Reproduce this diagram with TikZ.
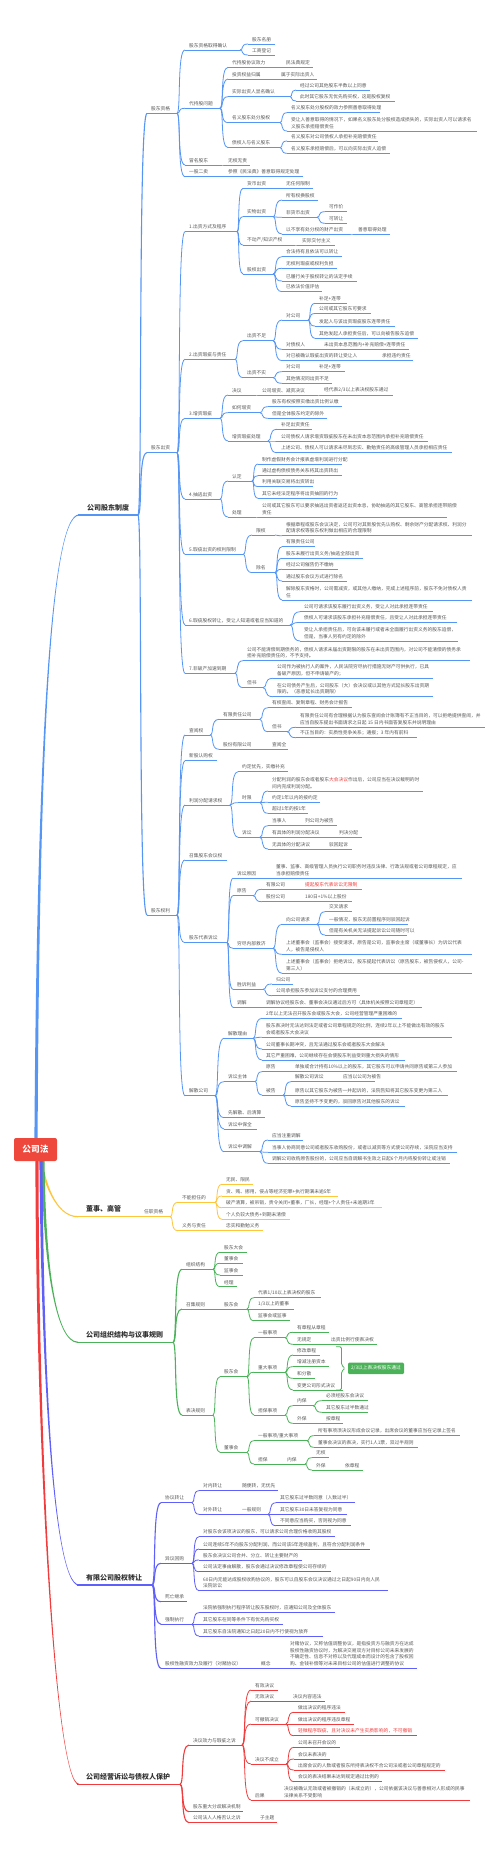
\documentclass[tikz,border=0pt]{standalone}
\usepackage{fontspec}
\setmainfont{Noto Sans CJK SC}
\usetikzlibrary{calc}
\definecolor{cblue}{RGB}{85,150,245}
\definecolor{cyel}{RGB}{255,198,60}
\definecolor{cgrn}{RGB}{76,178,90}
\definecolor{cvio}{RGB}{95,95,250}
\definecolor{cred}{RGB}{240,60,60}
\definecolor{ctxt}{RGB}{88,88,88}
\definecolor{rootred}{RGB}{238,72,60}
\colorlet{br}{cblue}
\tikzset{
 txt/.style={inner sep=0pt, anchor=south west, text=ctxt, font=\fontsize{4.75}{6.7}\selectfont, align=left},
 ul/.style={draw=br, line width=0.8pt},
 cl/.style={draw=br, line width=0.8pt},
 lw1/.style={line width=1.1pt},
 mtxt/.style={inner sep=0pt, anchor=base west, text=black!80, font=\fontsize{7}{8}\selectfont\bfseries}
}
\newcommand\nd[5]{\coordinate (#1-s) at ({#2-4},#3); \coordinate (#1-e) at (#4,#3);
 \draw[ul] (#1-s) -- (#1-e); \node[txt] (#1) at (#2,{#3-2.2}) {#5};}
\newcommand\mnd[5]{\coordinate (#1-s) at ({#2-9},#3); \coordinate (#1-e) at (#4,#3);
 \draw[ul,line width=1.2pt] (#1-s) -- (#1-e); \node[mtxt] (#1) at (#2,{#3-5}) {#5};}
\newcommand\cn[3][]{\draw[cl,#1] let \p1=(#2-e), \p2=(#3-s) in (\p1) .. controls ({\x1+0.5*(\x2-\x1)},\y1) and (\x1,\y2) .. (\p2);}
\newcommand\cns[3][]{\foreach \c in {#3}{\cn[#1]{#2}{\c}}}
\newcommand\rt[1]{\textcolor{cred}{#1}}
% tapered trunk: color, x0, y0, c1x, c1y, c2x, xe, ye, sign
\newcommand\trk[9]{\fill[#1] ({#2-1.6*#9},#3) .. controls ({#4-1.2*#9},#5) and (#6,{#8-0.6}) .. (#7,{#8-0.6}) -- (#7,{#8+0.6}) .. controls (#6,{#8+0.6}) and ({#4+1.2*#9},#5) .. ({#2+1.6*#9},#3) -- cycle;}
\begin{document}
\begin{tikzpicture}[x=1pt,y=-1pt]
\fill[white] (0,0) rectangle (500,1859);
\useasboundingbox (0,0) rectangle (500,1859);
% ================= BLUE =================
\colorlet{br}{cblue}
\mnd{m1}{87}{515}{138}{公司股东制度}
\trk{cblue}{36}{1142}{38}{760}{50}{79}{515}{1}
\nd{a1}{151}{113.3}{177}{股东资格}
\nd{a11}{189}{50}{240}{股东资格取得确认}
\nd{a111}{252}{44}{275}{股东名册}
\nd{a112}{252}{55}{275}{工商登记}
\nd{a12}{189}{108.3}{220}{代持股问题}
\nd{a121}{232}{67.3}{278}{代持股协议效力}
\nd{a1211}{286}{67.3}{313}{民法典规定}
\nd{a122}{232}{79}{276}{投资权益归属}
\nd{a1221}{281}{79}{317}{属于实际出资人}
\nd{a123}{232}{96.7}{290}{实际出资人显名确认}
\nd{a1231}{300}{90}{370}{经过公司其他股东半数以上同意}
\nd{a1232}{300}{101}{395}{此时其它股东无优先购买权，这是股权复权}
\nd{a124}{232}{122.7}{280}{名义股东处分股权}
\nd{a1241}{291}{112.7}{380}{名义股东处分股权的效力参照善意取得处理}
\nd{a1242}{291}{131}{477}{受让人善意取得的情况下，如果名义股东处分股权造成损失的，实际出资人可以请求名\\义股东承担赔偿责任}
\nd{a125}{232}{147.7}{280}{债权人与名义股东}
\nd{a1251}{291}{141}{378}{名义股东对公司债权人承担补充赔偿责任}
\nd{a1252}{291}{153.3}{390}{名义股东承担赔偿后，可以向实际出资人追偿}
\nd{a13}{189}{165}{222}{冒名股东}
\nd{a131}{228}{165}{250}{无权无责}
\nd{a14}{189}{176.7}{222}{一股二卖}
\nd{a141}{228}{176.7}{303}{参照《民法典》善意取得规定处理}
\nd{a2}{151}{452.7}{177}{股东出资}
\nd{b1}{189}{231.7}{237}{1.出资方式及程序}
\nd{b11}{247}{188.3}{280}{货币出资}
\nd{b111}{286}{188.3}{313}{无任何限制}
\nd{b12}{247}{216.7}{273}{实物出资}
\nd{b121}{286}{200}{318}{所有权换股权}
\nd{b122}{286}{217.3}{317}{非货币出资}
\nd{b1221}{329}{211.7}{347}{可作价}
\nd{b1222}{329}{223.3}{347}{可转让}
\nd{b123}{286}{234}{350}{以不享有处分权的财产出资}
\nd{b1231}{358}{234}{390}{善意取得处理}
\nd{b13}{247}{245}{295}{不动产/知识产权}
\nd{b131}{302}{245}{335}{实际交付主义}
\nd{b14}{247}{274}{273}{股权出资}
\nd{b141}{286}{256.7}{342}{合法持有且依法可以转让}
\nd{b142}{286}{268.3}{337}{无权利瑕疵或权利负担}
\nd{b143}{286}{281}{357}{已履行关于股权转让的法定手续}
\nd{b144}{286}{291.7}{322}{已依法价值评估}
\nd{b2}{189}{359.3}{235}{2.出资瑕疵与责任}
\nd{b21}{247}{340.7}{273}{出资不足}
\nd{b211}{286}{320}{308}{对公司}
\nd{b2111}{319}{303.3}{347}{补足+连带}
\nd{b2112}{319}{313.5}{371}{公司或其它股东可要求}
\nd{b2113}{319}{326}{395}{发起人与该出资瑕疵股东连带责任}
\nd{b2114}{319}{338.3}{418}{其他发起人承担责任后，可以向被告股东追偿}
\nd{b212}{286}{349.3}{318}{对债权人}
\nd{b2121}{324}{349.3}{409}{未出资本息范围内+补充赔偿+连带责任}
\nd{b213}{286}{360.7}{375}{对已被确认瑕疵出资的转让受让人}
\nd{b2131}{382}{360.7}{413}{承担违约责任}
\nd{b22}{247}{377.7}{273}{出资不实}
\nd{b221}{286}{371.7}{313}{对公司}
\nd{b2211}{319}{371.7}{345}{补足+连带}
\nd{b222}{286}{383.3}{332}{其他情况同出资不足}
\nd{b3}{189}{418.3}{220}{3.增资瑕疵}
\nd{b31}{232}{395}{256}{决议}
\nd{b311}{262}{395}{318}{公司增资、减资决议}
\nd{b3111}{324}{395}{393}{经代表2/3以上表决权股东通过}
\nd{b32}{232}{412.7}{260}{如何增资}
\nd{b321}{272}{406.7}{342}{股东有权按照实缴出资比例认缴}
\nd{b322}{272}{418.3}{327}{但是全体股东约定的除外}
\nd{b33}{232}{441}{268}{增资瑕疵处理}
\nd{b331}{281}{429.3}{312}{补足出资责任}
\nd{b332}{281}{441}{428}{公司债权人请求增资瑕疵股东在未出资本息范围内承担补充赔偿责任}
\nd{b333}{281}{452.7}{452}{上述公司、债权人可以请求未尽到忠实、勤勉责任的高级管理人员承担相应责任}
\nd{b4}{189}{499}{220}{4.抽逃出资}
\nd{b41}{232}{481}{252}{认定}
\nd{b411}{262}{464}{342}{制作虚假财务会计报表虚增利润进行分配}
\nd{b412}{262}{475.7}{342}{通过虚构债权债务关系将其出资转出}
\nd{b413}{262}{486.7}{313}{利用关联交易将出资转出}
\nd{b414}{262}{498.3}{337}{其它未经法定程序将出资抽回的行为}
\nd{b42}{232}{517}{256}{处理}
\nd{b421}{262}{517}{447}{公司或其它股东可以要求抽逃出资者返还出资本息，协助抽逃的其它股东、高管承担连带赔偿\\责任}
\nd{b5}{189}{554.3}{243}{5.瑕疵出资的权利限制}
\nd{b51}{256}{535}{275}{限权}
\nd{b511}{286}{535.7}{472}{根据章程或股东会议决定，公司可对其新股优先认购权、剩余财产分配请求权、利润分\\配请求权等股东权利做出相应的合理限制}
\nd{b52}{256}{572.7}{275}{除名}
\nd{b521}{286}{546.7}{315}{有限责任公司}
\nd{b522}{286}{558.3}{363}{股东未履行出资义务/抽逃全部出资}
\nd{b523}{286}{569.3}{338}{经过公司催告仍不缴纳}
\nd{b524}{286}{581}{347}{通过股东会议方式进行除名}
\nd{b525}{286}{600}{472}{解除股东资格时，公司需减资，或其他人缴纳，完成上述程序前，股东不免对债权人责\\任}
\nd{b6}{189}{625}{290}{6.瑕疵股权转让，受让人知道或者应当知道的}
\nd{b61}{304}{611.7}{433}{公司可请求该股东履行出资义务，受让人对此承担连带责任}
\nd{b62}{304}{622.5}{457}{债权人可请求该股东承担补充赔偿责任，且受让人对此承担连带责任}
\nd{b63}{304}{641}{458}{受让人承担责任后，可向该未履行或者未全面履行出资义务的股东追偿，\\但是，当事人另有约定的除外}
\nd{b7}{189}{673.3}{235}{7.非破产加速到期}
\nd{b71}{247}{660.7}{470}{公司不能清偿到期债务的，债权人请求未届出资期限的股东在未出资范围内，对公司不能清偿的债务承\\担补充赔偿责任的，不予支持。}
\nd{b72}{247}{687.7}{263}{但书}
\nd{b721}{277}{678.3}{433}{公司作为被执行人的案件，人民法院穷尽执行措施无财产可供执行，已具\\备破产原因，但不申请破产的；}
\nd{b722}{277}{696.7}{433}{在公司债务产生后，公司股东（大）会决议或以其他方式延长股东出资期\\限的。（恶意延长出资期限）}
\nd{a3}{151}{915}{177}{股东权利}
\nd{c1}{189}{735}{210}{查阅权}
\nd{c11}{223}{719.3}{260}{有限责任公司}
\nd{c111}{272}{707.7}{352}{有权查阅、复制章程、财务会计报告}
\nd{c112}{272}{731.7}{287}{但书}
\nd{c1121}{300}{727.3}{485}{有限责任公司有合理根据认为股东查阅会计账簿有不正当目的，可以拒绝提供查阅，并\\应当自股东提出书面请求之日起 15 日内书面答复股东并说明理由}
\nd{c1122}{300}{737.7}{417}{不正当目的：实质性竞争关系；通报；3 年内有前科}
\nd{c12}{223}{749.3}{268}{股份有限公司}
\nd{c121}{272}{749.3}{288}{查阅全}
\nd{c2}{189}{760.7}{217}{新股认购权}
\nd{c3}{189}{805}{230}{利润分配请求权}
\nd{c31}{242}{771.7}{288}{约定优先，实缴补充}
\nd{c32}{242}{802.7}{260}{时限}
\nd{c321}{272}{791}{423}{分配利润的股东会或者股东\rt{大会决议}作出后，公司应当在决议载明的时\\间内完成利润分配。}
\nd{c322}{272}{802.3}{320}{约定1年以内的按约定}
\nd{c323}{272}{813.3}{308}{超过1年的按1年}
\nd{c33}{242}{837.3}{260}{诉讼}
\nd{c331}{272}{825.7}{300}{当事人}
\nd{c3311}{305}{825.7}{337}{列公司为被告}
\nd{c332}{272}{837.3}{333}{有具体的利润分配决议}
\nd{c3321}{339}{837.3}{362}{判决分配}
\nd{c333}{272}{849}{324}{无具体的分配决议}
\nd{c3331}{329}{849}{352}{驳回起诉}
\nd{c4}{189}{860}{227}{召集股东会议权}
\nd{c5}{189}{942.7}{227}{股东代表诉讼}
\nd{c51}{237}{878.3}{268}{诉讼原因}
\nd{c511}{276}{878.3}{462}{董事、监事、高级管理人员执行公司职务时违反法律、行政法规或者公司章程规定，应\\当承担赔偿责任}
\nd{c52}{237}{895.7}{253}{原告}
\nd{c521}{266}{889.3}{300}{有限公司}
\nd{c5211}{305}{889.3}{362}{\rt{提起股东代表诉讼无限制}}
\nd{c522}{266}{901.7}{300}{股份公司}
\nd{c5221}{305}{901.7}{352}{180日+1\%以上股份}
\nd{c53}{237}{948.3}{273}{穷尽内部救济}
\nd{c531}{286}{924.3}{317}{向公司请求}
\nd{c5311}{329}{911.7}{352}{交叉请求}
\nd{c5312}{329}{924.3}{408}{一般情况，股东无前置程序则驳回起诉}
\nd{c5313}{329}{935}{407}{但是有关机关无法提起诉讼公司随时可以}
\nd{c532}{286}{954.3}{472}{上述董事会（监事会）接受请求，原告是公司，监事会主席（或董事长）为诉讼代表\\人，被告是侵权人}
\nd{c533}{286}{973.3}{472}{上述董事会（监事会）拒绝诉讼，股东提起代表诉讼（原告股东，被告侵权人，公司-\\第三人）}
\nd{c54}{237}{989.3}{263}{胜诉利益}
\nd{c541}{276}{984}{293}{归公司}
\nd{c542}{276}{995.7}{360}{公司承担股东参加诉讼支付的合理费用}
\nd{c55}{237}{1007.3}{262}{调解}
\nd{c551}{266}{1007.3}{422}{调解协议经股东会、董事会决议通过后方可（具体机关按照公司章程定）}
\nd{c6}{189}{1095.7}{215}{解散公司}
\nd{c61}{228}{1038.3}{253}{解散理由}
\nd{c611}{266}{1018.3}{402}{2年以上无法召开股东会或股东大会，公司经营管理严重困难的}
\nd{c612}{266}{1037.3}{452}{股东表决时无法达到法定或者公司章程规定的比例，连续2年以上不能做出有效的股东\\会或者股东大会决议}
\nd{c613}{266}{1049}{388}{公司董事长期冲突，且无法通过股东会或者股东大会解决}
\nd{c614}{266}{1060}{405}{其它严重困难，公司继续存在会使股东利益受到重大损失的情形}
\nd{c62}{228}{1081.7}{255}{诉讼主体}
\nd{c621}{266}{1071.7}{290}{原告}
\nd{c6211}{295}{1071.7}{457}{单独或合计持有10\%以上的股东，其它股东可以申请共同原告或第三人参加}
\nd{c622}{266}{1095}{283}{被告}
\nd{c6221}{295}{1081.7}{335}{解散公司诉讼}
\nd{c62211}{343}{1081.7}{375}{应当以公司为被告}
\nd{c6222}{295}{1095}{448}{原告以其它股东为被告一并起诉的，法院告知将其它股东变更为第三人}
\nd{c6223}{295}{1106}{405}{原告坚持不予变更的，驳回原告对其他股东的诉讼}
\nd{c63}{228}{1117.7}{265}{先解散、后清算}
\nd{c64}{228}{1129}{257}{诉讼中保全}
\nd{c65}{228}{1151.7}{260}{诉讼中调解}
\nd{c651}{272}{1140}{303}{应当注重调解}
\nd{c652}{272}{1152.3}{457}{当事人协商同意公司或者股东收购股份，或者以减资等方式使公司存续，法院应当支持}
\nd{c653}{272}{1163.3}{450}{调解公司收购原告股份的，公司应当自调解书生效之日起6个月内将股份转让或注销}
\cns[lw1]{m1}{a1,a2,a3}
\cns{a1}{a11,a12,a13,a14}
\cns{a11}{a111,a112}
\cns{a12}{a121,a122,a123,a124,a125}
\cn{a121}{a1211} \cn{a122}{a1221}
\cns{a123}{a1231,a1232}
\cns{a124}{a1241,a1242}
\cns{a125}{a1251,a1252}
\cn{a13}{a131} \cn{a14}{a141}
\cns{a2}{b1,b2,b3,b4,b5,b6,b7}
\cns{b1}{b11,b12,b13,b14}
\cn{b11}{b111}
\cns{b12}{b121,b122,b123}
\cns{b122}{b1221,b1222}
\cn{b123}{b1231} \cn{b13}{b131}
\cns{b14}{b141,b142,b143,b144}
\cns{b2}{b21,b22}
\cns{b21}{b211,b212,b213}
\cns{b211}{b2111,b2112,b2113,b2114}
\cn{b212}{b2121} \cn{b213}{b2131}
\cns{b22}{b221,b222}
\cn{b221}{b2211}
\cns{b3}{b31,b32,b33}
\cn{b31}{b311} \cn{b311}{b3111}
\cns{b32}{b321,b322}
\cns{b33}{b331,b332,b333}
\cns{b4}{b41,b42}
\cns{b41}{b411,b412,b413,b414}
\cn{b42}{b421}
\cns{b5}{b51,b52}
\cn{b51}{b511}
\cns{b52}{b521,b522,b523,b524,b525}
\cns{b6}{b61,b62,b63}
\cns{b7}{b71,b72}
\cns{b72}{b721,b722}
\cns{a3}{c1,c2,c3,c4,c5,c6}
\cns{c1}{c11,c12}
\cns{c11}{c111,c112}
\cns{c112}{c1121,c1122}
\cn{c12}{c121}
\cns{c3}{c31,c32,c33}
\cns{c32}{c321,c322,c323}
\cns{c33}{c331,c332,c333}
\cn{c331}{c3311} \cn{c332}{c3321} \cn{c333}{c3331}
\cns{c5}{c51,c52,c53,c54,c55}
\cn{c51}{c511}
\cns{c52}{c521,c522}
\cn{c521}{c5211} \cn{c522}{c5221}
\cns{c53}{c531,c532,c533}
\cns{c531}{c5311,c5312,c5313}
\cns{c54}{c541,c542}
\cn{c55}{c551}
\cns{c6}{c61,c62,c63,c64,c65}
\cns{c61}{c611,c612,c613,c614}
\cns{c62}{c621,c622}
\cn{c621}{c6211}
\cns{c622}{c6221,c6222,c6223}
\cn{c6221}{c62211}
\cns{c65}{c651,c652,c653}
% ================= YELLOW =================
\colorlet{br}{cyel}
\mnd{m2}{86}{1216.7}{140}{董事、高管}
\trk{cyel}{40}{1158}{44}{1180}{55}{78}{1216.7}{-1}
\nd{d1}{144}{1216.7}{170}{任职资格}
\nd{d11}{182}{1202.3}{215}{不能担任的}
\nd{d111}{226}{1184.3}{253}{无民、限民}
\nd{d112}{226}{1196}{338}{贪、贿、挪用，侵占等经济犯罪+执行期满未逾5年}
\nd{d113}{226}{1207.7}{382}{破产清算，被吊销，责令关闭+董事，厂长，经理+个人责任+未逾期3年}
\nd{d114}{226}{1219.3}{290}{个人负较大债务+到期未清偿}
\nd{d12}{182}{1230.7}{220}{义务与责任}
\nd{d121}{226}{1230.7}{263}{忠实和勤勉义务}
\cn[lw1]{m2}{d1}
\cns{d1}{d11,d12}
\cns{d11}{d111,d112,d113,d114}
\cn{d12}{d121}
% ================= GREEN =================
\colorlet{br}{cgrn}
\mnd{m3}{86}{1342.3}{173}{公司组织结构与议事规则}
\trk{cgrn}{43}{1158}{44}{1260}{55}{78}{1342.3}{-1}
\nd{e1}{186}{1269.3}{213}{组织结构}
\nd{e11}{224}{1252.3}{247}{股东大会}
\nd{e12}{224}{1263.3}{243}{董事会}
\nd{e13}{224}{1275}{243}{监事会}
\nd{e14}{224}{1286.7}{237}{经理}
\nd{e2}{186}{1309}{213}{召集规则}
\nd{e21}{224}{1309}{247}{股东会}
\nd{e211}{258}{1297.7}{321}{代表1/10以上表决权的股东}
\nd{e212}{258}{1309}{294}{1/3以上的董事}
\nd{e213}{258}{1320.7}{290}{监事会或监事}
\nd{e3}{186}{1415}{213}{表决规则}
\nd{e31}{224}{1376.7}{247}{股东会}
\nd{e311}{258}{1337.7}{285}{一般事项}
\nd{e3111}{297}{1332.3}{329}{有章程从章程}
\nd{e3112}{297}{1344.3}{325}{无规定}
\nd{e31121}{331}{1344.3}{377}{出资比例行使表决权}
\nd{e312}{258}{1372.3}{285}{重大事项}
\nd{e3121}{297}{1355}{320}{修改章程}
\nd{e3122}{297}{1366.7}{329}{增减注册资本}
\nd{e3123}{297}{1378.3}{315}{和分散}
\nd{e3124}{297}{1390}{343}{变更公司形式决议}
\nd{e313}{258}{1415}{285}{担保事项}
\nd{e3131}{297}{1405.7}{313}{内保}
\nd{e31311}{326}{1400.7}{368}{必须经股东会决议}
\nd{e31312}{326}{1412.3}{368}{其它股东过半数通过}
\nd{e3132}{297}{1423.3}{320}{外保}
\nd{e31321}{326}{1423.3}{343}{按章程}
\nd{e32}{224}{1452.3}{247}{董事会}
\nd{e321}{258}{1440.7}{307}{一般事项/重大事项}
\nd{e3211}{318}{1435.7}{460}{所有事项须决议形成会议记录，出席会议的董事应当在记录上签名}
\nd{e3212}{318}{1447.3}{418}{董事会决议的表决，实行1人1票，双过半规则}
\nd{e322}{258}{1464}{281}{担保}
\nd{e3221}{287}{1464}{305}{内保}
\nd{e32211}{316}{1457.7}{329}{无权}
\nd{e32212}{316}{1470}{340}{外保}
\nd{e322121}{345}{1470}{363}{依章程}
\cns[lw1]{m3}{e1,e2,e3}
\cns{e1}{e11,e12,e13,e14}
\cn{e2}{e21}
\cns{e21}{e211,e212,e213}
\cns{e3}{e31,e32}
\cns{e31}{e311,e312,e313}
\cns{e311}{e3111,e3112}
\cn{e3112}{e31121}
\cns{e312}{e3121,e3122,e3123,e3124}
\cns{e313}{e3131,e3132}
\cns{e3131}{e31311,e31312}
\cn{e3132}{e31321}
\cns{e32}{e321,e322}
\cns{e321}{e3211,e3212}
\cn{e322}{e3221}
\cns{e3221}{e32211,e32212}
\cn{e32212}{e322121}
\coordinate (bk1) at (336,1346.7);
\coordinate (bk2) at (336,1390);
\draw[cgrn, line width=0.8pt, rounded corners=1.5pt] (bk1) -- (341.5,1346.7) -- (341.5,1365) -- (345,1368.3) -- (341.5,1371.5) -- (341.5,1390) -- (bk2);
\node[fill=cgrn, rounded corners=1.2pt, text=white, font=\fontsize{4.75}{5}\selectfont, minimum width=56pt, minimum height=11.5pt, inner sep=0pt] (box) at (376,1368.3) {2/3以上表决权股东通过};
% ================= VIOLET =================
\colorlet{br}{cvio}
\mnd{m4}{86}{1585}{152}{有限公司股权转让}
\trk{cvio}{41}{1158}{42}{1350}{52}{79}{1585}{-1}
\nd{f1}{165}{1502.7}{192}{协议转让}
\nd{f11}{203}{1490.7}{236}{对内转让}
\nd{f111}{242}{1490.7}{278}{随便转，无优先}
\nd{f12}{203}{1514.3}{236}{对外转让}
\nd{f121}{242}{1514.3}{268}{一般规则}
\nd{f1211}{280}{1502.7}{355}{其它股东过半数同意（人数过半）}
\nd{f1212}{280}{1514.3}{347}{其它股东30日未答复视为同意}
\nd{f1213}{280}{1525.7}{351}{不同意应当购买，否则视为同意}
\nd{f2}{165}{1563.3}{192}{异议回购}
\nd{f21}{203}{1536.7}{335}{对股东会该项决议的股东，可以请求公司合理价格收购其股权}
\nd{f22}{203}{1549}{370}{公司连续5年不向股东分配利润，而公司该5年连续盈利，且符合分配利润条件}
\nd{f23}{203}{1560}{302}{股东会决议公司合并、分立、转让主要财产的}
\nd{f24}{203}{1571.7}{331}{公司法定事由解散，股东会通过决议修改章程使公司存续的}
\nd{f25}{203}{1590.7}{388}{60日内无能达成股权收购协议的，股东可以自股东会议决议通过之日起90日内向人民\\法院诉讼}
\nd{f3}{165}{1601.7}{187}{死亡继承}
\nd{f4}{165}{1624.3}{192}{强制执行}
\nd{f41}{203}{1612.7}{335}{法院依强制执行程序转让股东股权时，应通知公司及全体股东}
\nd{f42}{203}{1624.3}{283}{其它股东在同等条件下有优先购买权}
\nd{f43}{203}{1636}{323}{其它股东自法院通知之日起20日内不行使视为放弃}
\nd{f5}{165}{1668.3}{253}{股权性融资效力及履行（对赌协议）}
\nd{f51}{261}{1668.3}{282}{概念}
\nd{f511}{290}{1668.3}{417}{对赌协议，又称估值调整协议，是指投资方与融资方在达成\\股权性融资协议时，为解决交易双方对目标公司未来发展的\\不确定性、信息不对称以及代理成本而设计的包含了股权回\\购、金钱补偿等对未来目标公司的估值进行调整的协议}
\cns[lw1]{m4}{f1,f2,f3,f4,f5}
\cns{f1}{f11,f12}
\cn{f11}{f111} \cn{f12}{f121}
\cns{f121}{f1211,f1212,f1213}
\cns{f2}{f21,f22,f23,f24,f25}
\cns{f4}{f41,f42,f43}
\cn{f5}{f51} \cn{f51}{f511}
% ================= RED =================
\colorlet{br}{cred}
\mnd{m5}{86}{1784.3}{180}{公司经营诉讼与债权人保护}
\trk{cred}{37}{1158}{37}{1450}{55}{79}{1784.3}{-1}
\nd{g1}{193}{1745}{242}{决议效力与瑕疵之诉}
\nd{g11}{255}{1690}{278}{有效决议}
\nd{g12}{255}{1701}{286}{无效决议}
\nd{g121}{293}{1701}{325}{决议内容违法}
\nd{g13}{255}{1724}{286}{可撤销决议}
\nd{g131}{298}{1712.3}{345}{做出决议的程序违法}
\nd{g132}{298}{1724}{354}{做出决议的程序违反章程}
\nd{g133}{298}{1735.7}{417}{\rt{轻微程序瑕疵，且对决议未产生实质影响的，不可撤销}}
\nd{g14}{255}{1764}{286}{决议不成立}
\nd{g141}{298}{1747.3}{340}{公司未召开会议的}
\nd{g142}{298}{1759}{330}{会议未表决的}
\nd{g143}{298}{1770}{445}{出席会议的人数或者股东所持表决权不合公司法或者公司章程规定的}
\nd{g144}{298}{1781.7}{382}{会议的表决结果未达到规定通过比例的}
\nd{g15}{255}{1800}{280}{后果}
\nd{g151}{284}{1800}{470}{决议被确认无效或者被撤销的（未成立的），公司依据该决议与善意相对人形成的民事\\法律关系不受影响}
\nd{g2}{193}{1811.7}{243}{股东重大分歧解决机制}
\nd{g3}{193}{1822.7}{255}{公司法人人格否认之诉}
\nd{g31}{260}{1822.7}{277}{子主题}
\cns[lw1]{m5}{g1,g2,g3}
\cns{g1}{g11,g12,g13,g14,g15}
\cn{g12}{g121}
\cns{g13}{g131,g132,g133}
\cns{g14}{g141,g142,g143,g144}
\cn{g15}{g151}
\cn{g3}{g31}
% ================= ROOT =================
\node[fill=rootred, rounded corners=2pt, minimum width=43pt, minimum height=23pt, inner sep=0pt, text=white, font=\fontsize{8.7}{9}\selectfont\bfseries] (root) at (35.5,1149.5) {公司法};
\end{tikzpicture}
\end{document}
